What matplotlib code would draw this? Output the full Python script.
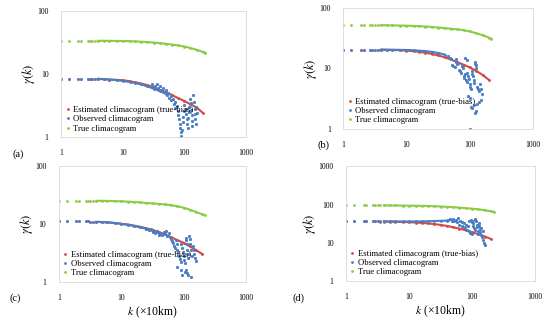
import matplotlib
matplotlib.use("Agg")
import matplotlib.pyplot as plt
from matplotlib.lines import Line2D
from matplotlib.ticker import FixedLocator, FixedFormatter, NullLocator

plt.rcParams['font.family'] = ['Liberation Serif', 'DejaVu Serif']
plt.rcParams['mathtext.fontset'] = 'stix'

# lag values k (x10km) for the smooth climacograms
K_CURVE = [1, 1.35, 1.9, 2.1, 2.7, 2.9, 3.2, 3.5, 4, 5, 6, 8, 10, 13, 16, 20,
           25, 32, 40, 50, 63, 80, 100, 125, 160, 200, 220]

# (a)
green_a = [33.5, 33.5, 33.5, 33.5, 33.4, 33.4, 33.4, 33.4, 33.3, 33.3, 33.2, 33.1, 33.0, 32.8,
           32.5, 32.2, 31.8, 31.2, 30.5, 29.8, 29.0, 28.1, 27.0, 25.6, 23.9, 22.2, 21.5]
red_a = [8.4, 8.4, 8.4, 8.4, 8.4, 8.4, 8.35, 8.3, 8.3, 8.2, 8.1, 8.0, 7.9, 7.6, 7.3, 7.0,
         6.6, 6.1, 5.6, 5.1, 4.6, 4.1, 3.7, 3.3, 2.9, 2.4]
blue_a = [8.4, 8.4, 8.4, 8.4, 8.4, 8.4, 8.35, 8.3, 8.3, 8.2, 8.1, 7.9, 7.7, 7.4, 7.1, 6.8,
          6.3, 5.8, 5.3, 4.8]
scat_k_a = [30, 33, 36, 38, 40, 42, 45, 48, 50, 52, 55, 57, 60, 62, 65, 67, 70, 72, 75, 78,
            80, 82, 84, 86, 88, 90, 92, 94, 96, 98, 100, 105, 108, 110, 112, 114, 116, 118,
            120, 125, 128, 130, 132, 134, 136, 140, 145, 148, 150, 152, 155, 158, 160, 90, 85]
scat_g_a = [7.0, 6.5, 6.8, 6.0, 6.3, 5.6, 5.9, 5.2, 5.5, 4.6, 5.0, 4.2, 4.5, 3.8, 4.0, 3.3,
            3.6, 2.9, 3.1, 2.6, 2.2, 1.9, 1.6, 1.4, 1.2, 1.05, 1.3, 1.7, 2.1, 2.6, 3.2, 2.8,
            2.3, 1.9, 1.6, 1.4, 2.0, 2.5, 3.0, 4.0, 3.4, 2.7, 2.2, 1.8, 1.5, 4.6, 3.6, 2.8,
            2.3, 1.9, 1.6, 3.0, 2.4, 0.95, 0.97]

# (b)
green_b = [52, 52, 52, 52, 52, 52, 52, 52, 52, 51.8, 51.6, 51.3, 51, 50.6, 50.1, 49.4, 48.6,
           47.5, 46.5, 45.5, 44.5, 43, 41, 38.5, 35.5, 32.5, 31]
red_b = [20.5, 20.5, 20.5, 20.5, 20.5, 20.5, 20.5, 20.4, 20.4, 20.3, 20.2, 20.0, 19.7, 19.3,
         18.8, 18.2, 17.4, 16.4, 15.3, 14.1, 12.8, 11.5, 10.4, 9.2, 7.8, 6.5]
blue_b = [20.5, 20.5, 20.5, 20.5, 20.5, 20.5, 20.5, 20.5, 20.5, 20.4, 20.4, 20.3, 20.2, 20.0,
          19.7, 19.3, 18.8, 18.0, 17.0]
scat_k_b = [45, 48, 50, 52, 55, 58, 60, 62, 65, 68, 70, 72, 75, 78, 80, 82, 85, 88, 90, 92,
            95, 98, 100, 102, 105, 108, 110, 112, 115, 118, 120, 123, 125, 128, 130, 135, 140,
            145, 150, 155, 60, 95, 100, 105, 110, 115, 120, 125, 130, 140, 150, 100, 85, 90]
scat_g_b = [16, 15, 14.5, 11.5, 11, 10.5, 13, 12, 12.5, 9.5, 9, 8.5, 11, 10, 7.5, 7, 8, 6.5,
            6, 8.5, 7.5, 6.8, 5.5, 5, 4.6, 9, 8.2, 7.4, 6.5, 5.8, 13, 12, 11.5, 10, 5, 4.5,
            4.2, 5.5, 4.5, 3.8, 14.5, 3.5, 3.2, 2.3, 2.2, 2.5, 1.8, 2.0, 2.6, 2.8, 3.0, 1.0,
            15, 14]

# (c)
green_c = [25, 25, 25, 25, 25, 25, 25, 25, 25, 24.9, 24.8, 24.6, 24.4, 24.1, 23.8, 23.4, 22.9,
           22.4, 22.0, 21.6, 21.0, 20.0, 19.0, 17.6, 16.0, 14.5, 14.0]
red_c = [11.1, 11.1, 11.0, 11.0, 11.0, 11.0, 10.9, 10.9, 10.8, 10.7, 10.6, 10.3, 10.0, 9.7,
         9.3, 8.9, 8.4, 7.8, 7.2, 6.6, 5.9, 5.2, 4.7, 4.1, 3.5, 3.0]
blue_c = [11.1, 11.1, 11.0, 11.0, 11.0, 11.0, 10.9, 10.9, 10.8, 10.7, 10.6, 10.3, 10.0, 9.6,
          9.2, 8.7, 8.2, 7.5, 6.9]
scat_k_c = [25, 28, 30, 32, 35, 38, 40, 42, 45, 48, 50, 52, 55, 58, 60, 62, 65, 68, 70, 72,
            75, 78, 80, 82, 85, 88, 90, 92, 95, 98, 100, 102, 105, 108, 110, 112, 115, 118,
            120, 122, 125, 128, 130, 135, 140, 145, 150, 155, 160, 90, 95, 105, 110, 115, 120,
            130, 80]
scat_g_c = [8.2, 7.8, 8.0, 7.2, 6.8, 7.5, 6.5, 7.0, 6.3, 7.2, 6.6, 7.4, 6.2, 7.0, 6.0, 5.5,
            5.0, 4.6, 4.2, 3.8, 5.2, 4.5, 3.6, 3.2, 2.8, 2.5, 2.2, 4.5, 3.8, 3.2, 2.8, 2.4,
            2.1, 5.8, 5.2, 4.4, 3.6, 3.0, 2.6, 6.2, 5.5, 4.5, 3.5, 2.8, 4.2, 3.6, 3.0, 2.6,
            2.3, 1.6, 1.3, 1.5, 1.6, 1.4, 1.3, 1.2, 1.8]

# (d)
green_d = [95, 95, 95, 95, 95, 95, 95, 95, 95, 94.8, 94.6, 94.2, 93.8, 93.2, 92.5, 91.6, 90.5,
           89, 87.3, 85.3, 83, 80.5, 78, 75, 71, 66.5, 65]
red_d = [36, 36, 36, 36, 36, 36, 36, 35.9, 35.8, 35.6, 35.4, 35, 34.5, 33.8, 33, 32, 30.8,
         29.2, 27.5, 25.5, 23.3, 21, 18.8, 16.8, 14.5, 12.5]
blue_d = [36, 36, 36, 36, 36, 36, 36, 36, 36, 36, 36, 36, 36, 36, 36.2, 36.5, 37, 37.5, 38]
scat_k_d = [42, 45, 48, 50, 52, 55, 58, 60, 62, 65, 68, 70, 72, 75, 78, 80, 82, 85, 88, 90,
            92, 95, 98, 100, 102, 105, 108, 110, 112, 115, 118, 120, 122, 125, 128, 130, 132,
            135, 140, 145, 150, 155, 160, 150, 140, 100, 110]
scat_g_d = [39, 41, 38, 43, 36, 40, 34, 45, 30, 38, 28, 35, 26, 32, 24, 30, 22, 27, 20, 38,
            18, 40, 35, 17, 32, 28, 25, 22, 42, 36, 30, 26, 20, 17, 33, 28, 23, 19, 16, 14,
            12, 10, 8.5, 20, 25, 38, 39]

RED = '#D24A43'
BLUE = '#4A7EC4'
GREEN = '#8CCB45'


def panel(ax, green, red, blue, sk, sg, yticks, show_xlabel):
    kr = K_CURVE[:len(red)]
    kb = K_CURVE[:len(blue)]
    ax.plot(kr, red, '.', ms=2, color=RED, lw=0)
    ax.plot(kr[8:], red[8:], '-', lw=1.5, color=RED)
    ax.plot(kb, blue, '.', ms=2, color=BLUE, lw=0)
    ax.plot(kb[8:], blue[8:], '-', lw=1.5, color=BLUE)
    ax.plot(sk, sg, 's', ms=1.1, color=BLUE, lw=0)
    ax.plot(K_CURVE, green, '.', ms=2, color=GREEN, lw=0)
    ax.plot(K_CURVE[8:], green[8:], '-', lw=1.5, color=GREEN)

    ax.set_xscale('log')
    ax.set_yscale('log')
    ax.set_xlim(1, 1000)
    ax.set_ylim(yticks[0], yticks[-1])
    ax.xaxis.set_major_locator(FixedLocator([1, 10, 100, 1000]))
    ax.xaxis.set_major_formatter(FixedFormatter(['1', '10', '100', '1000']))
    ax.yaxis.set_major_locator(FixedLocator(yticks))
    ax.yaxis.set_major_formatter(FixedFormatter([str(t) for t in yticks]))
    ax.xaxis.set_minor_locator(NullLocator())
    ax.yaxis.set_minor_locator(NullLocator())
    ax.tick_params(length=0, labelsize=5.5, pad=9)
    for s in ax.spines.values():
        s.set_color('#d9d9d9')
        s.set_linewidth(0.6)
    ax.set_ylabel(r'$\gamma(k)$', fontsize=9, labelpad=0)
    if show_xlabel:
        ax.set_xlabel(r'$k$ (×10km)', fontsize=8.5, labelpad=2)

    handles = [Line2D([], [], ls='none', marker='.', ms=2, color=RED),
               Line2D([], [], ls='none', marker='.', ms=2, color=BLUE),
               Line2D([], [], ls='none', marker='.', ms=2, color=GREEN)]
    ax.legend(handles, ['Estimated climacogram (true-bias)', 'Observed climacogram',
                        'True climacogram'],
              loc='lower left', fontsize=6.2, frameon=False, handlelength=0.5,
              handletextpad=0.4, labelspacing=0.15, borderaxespad=0.1)


fig = plt.figure(figsize=(5.5, 3.22), dpi=100)
ax_a = fig.add_axes([0.111, 0.575, 0.336, 0.392])
ax_b = fig.add_axes([0.624, 0.600, 0.345, 0.375])
ax_c = fig.add_axes([0.107, 0.125, 0.340, 0.360])
ax_d = fig.add_axes([0.629, 0.128, 0.344, 0.355])

panel(ax_a, green_a, red_a, blue_a, scat_k_a, scat_g_a, [1, 10, 100], False)
panel(ax_b, green_b, red_b, blue_b, scat_k_b, scat_g_b, [1, 10, 100], False)
panel(ax_c, green_c, red_c, blue_c, scat_k_c, scat_g_c, [1, 10, 100], True)
panel(ax_d, green_d, red_d, blue_d, scat_k_d, scat_g_d, [1, 10, 100, 1000], True)

fig.text(0.022, 0.522, '(a)', fontsize=7.5, va='center')
fig.text(0.578, 0.55, '(b)', fontsize=7.5, va='center')
fig.text(0.018, 0.075, '(c)', fontsize=7.5, va='center')
fig.text(0.532, 0.075, '(d)', fontsize=7.5, va='center')

fig.savefig('out.png', dpi=100)
